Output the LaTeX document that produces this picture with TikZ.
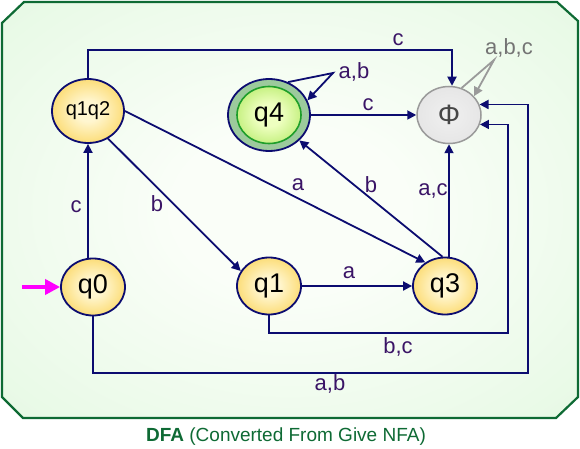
\documentclass[tikz,border=0pt]{standalone}
\usepackage{fontspec}
\setmainfont{Liberation Sans}
\usetikzlibrary{arrows.meta,shapes.geometric}
\definecolor{navy}{HTML}{0C0C70}
\definecolor{lblc}{HTML}{3A1466}
\definecolor{framec}{HTML}{0E6A34}
\definecolor{bgout}{HTML}{E3F8E1}
\definecolor{bgin}{HTML}{FAFEF8}
\definecolor{goldout}{HTML}{F6BA1E}
\definecolor{goldmid}{HTML}{FBD660}
\definecolor{goldin}{HTML}{FFF6D0}
\definecolor{limeout}{HTML}{86DA1E}
\definecolor{limein}{HTML}{EEFFC0}
\definecolor{ringc}{HTML}{9CCA9C}
\definecolor{accb}{HTML}{1E9E2A}
\definecolor{greyout}{HTML}{DCDCDC}
\definecolor{greyin}{HTML}{F0F0F0}
\definecolor{greyb}{HTML}{9A9A9A}
\definecolor{greyl}{HTML}{747474}
\definecolor{magent}{HTML}{FF00FF}
\pgfdeclareradialshading{goldball}{\pgfpoint{0bp}{0bp}}{color(0bp)=(goldin); color(8bp)=(goldin); color(30bp)=(goldmid); color(50bp)=(goldout)}
\pgfdeclareradialshading{limeball}{\pgfpoint{0bp}{0bp}}{color(0bp)=(limein); color(10bp)=(limein); color(50bp)=(limeout)}
\pgfdeclareradialshading{greyball}{\pgfpoint{0bp}{0bp}}{color(0bp)=(greyin); color(50bp)=(greyout)}
\pgfdeclareradialshading{bgshade}{\pgfpoint{0bp}{0bp}}{color(0bp)=(bgin); color(10bp)=(bgin); color(40bp)=(bgout); color(50bp)=(bgout)}
\begin{document}
\begin{tikzpicture}[x=1pt,y=-1pt,
  st/.style={ellipse, draw=navy, line width=1.8pt, minimum width=64pt, minimum height=57pt, inner sep=0pt, shading=goldball, font=\fontsize{27}{30}\selectfont},
  ringst/.style={ellipse, draw=navy, line width=1.8pt, fill=ringc, minimum width=82pt, minimum height=72pt, inner sep=0pt},
  accst/.style={ellipse, draw=accb, line width=1.6pt, shading=limeball, minimum width=64pt, minimum height=57pt, inner sep=0pt, font=\fontsize{27}{30}\selectfont},
  deadst/.style={ellipse, draw=greyb, line width=1.5pt, shading=greyball, minimum width=64pt, minimum height=57pt, inner sep=0pt, text=black!72, font=\fontsize{28}{32}\selectfont},
  edge/.style={draw=navy, line width=1.8pt, -{Triangle[length=9pt,width=9pt]}},
  gedge/.style={draw=greyb, line width=1.8pt, -{Triangle[length=9pt,width=9pt]}},
  startarr/.style={draw=magent, line width=4pt, -{Triangle[length=15pt,width=15pt]}},
  lbl/.style={text=lblc, inner sep=0pt, font=\fontsize{22}{26}\selectfont},
  glbl/.style={text=greyl, inner sep=0pt, font=\fontsize{22}{26}\selectfont},
  captxt/.style={text=framec, inner sep=0pt, font=\fontsize{19}{23}\selectfont}]
\useasboundingbox (0,0) rectangle (580,449);
% frame
\path[shading=bgshade] (24,2) -- (557,2) -- (578,21) -- (578,397) -- (556,418) -- (23,418) -- (2,397) -- (2,23) -- cycle;
\draw[framec, line width=2.2pt, line join=miter] (24,2) -- (557,2) -- (578,21) -- (578,397) -- (556,418) -- (23,418) -- (2,397) -- (2,23) -- cycle;
% states
\node[st] (q0) at (93,287) {q0};
\node[st, minimum width=72pt, minimum height=64pt, font=\fontsize{20}{23}\selectfont] (q12) at (88,111) {q1q2};
\node[st] (q1) at (269,286) {q1};
\node[st] (q3) at (445,286) {q3};
\node[ringst] (q4) at (269,115) {};
\node[accst] (q4i) at (q4.center) {q4};
\node[deadst] (phi) at (449,115) {Φ};
% coordinates
\coordinate (ctop) at (452,50);
\coordinate (l4) at (333,73);
\coordinate (lphi) at (494,60);
\coordinate (c1) at (508,333);
\coordinate (c2) at (528,373);
\coordinate (s0) at (22,287);
% edges
\draw[startarr] (s0) -- (q0.west);
\draw[edge] (q12.south |- q0.north) -- (q12.south);
\draw[edge] (q12.north) |- (ctop) -- (ctop |- phi.north);
\draw[edge] (q12.-54) -- (q1.152);
\draw[edge] (q12.east) -- (q3.130);
\draw[edge] (q3.95) -- (q4.-40);
\draw[edge] (phi.south |- q3.north) -- (phi.south);
\draw[edge] (q4.east) -- (phi.west);
\draw[edge] (q1) -- (q3);
\draw[edge] (q4.60) -- (l4) -- (q4.21);
\draw[gedge] (phi.65) -- (lphi) -- (phi.37);
\draw[edge] (q1.south) |- (c1) |- (phi.-17);
\draw[edge] (q0.south) |- (c2) |- (phi.19);
% labels
\node[lbl] (lc0) at (76,207) {c};
\node[lbl] (lctop) at (398,40) {c};
\node[lbl] (lb1) at (157,204) {b};
\node[lbl] (la3) at (298,185) {a};
\node[lbl] (lb4) at (371,185) {b};
\node[lbl] (lac) at (433,191) {a,c};
\node[lbl] (lc4) at (368,105) {c};
\node[lbl] (la13) at (349,273) {a};
\node[lbl] (lbc) at (398,347) {b,c};
\node[lbl] (lab) at (330,384) {a,b};
\node[lbl] (lab4) at (354,72) {a,b};
\node[glbl] (labc) at (509,48) {a,b,c};
\node[captxt] (caption) at (286,437) {\textbf{DFA} (Converted From Give NFA)};
\end{tikzpicture}
\end{document}
